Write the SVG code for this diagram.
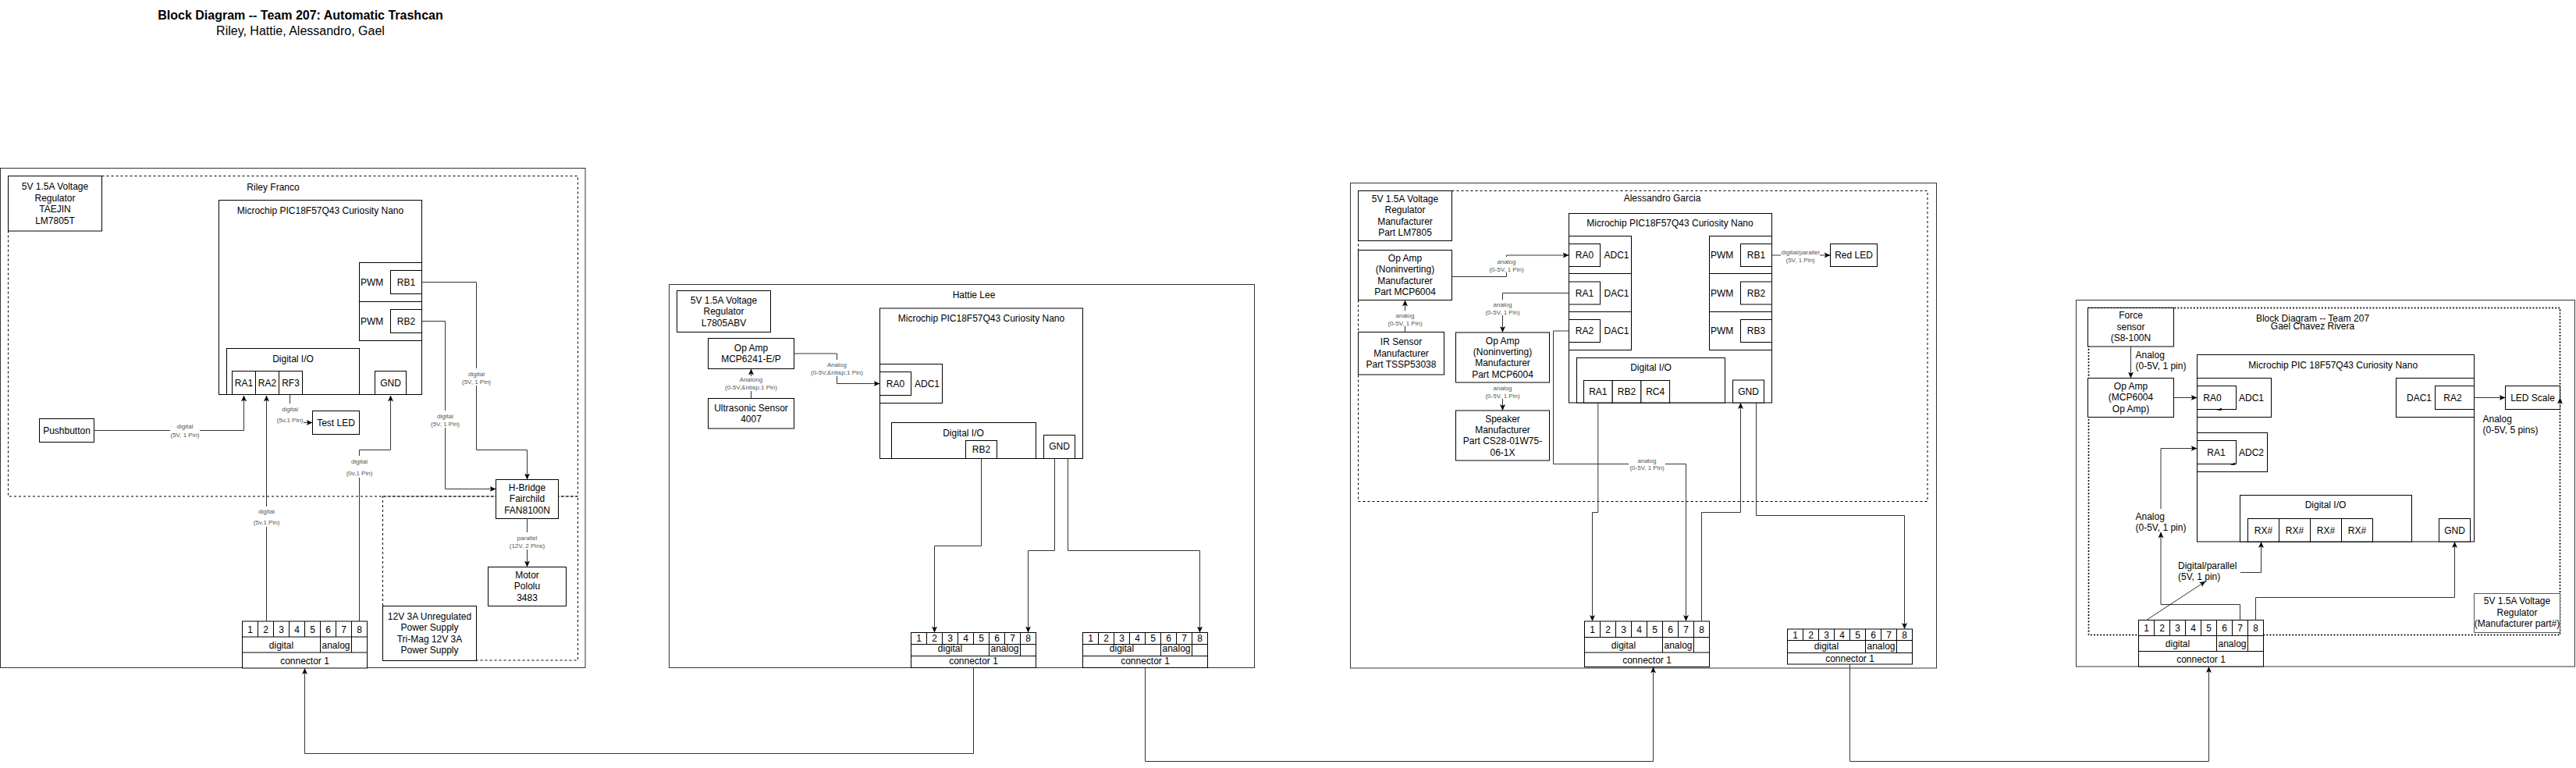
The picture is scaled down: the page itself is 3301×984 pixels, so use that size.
<svg xmlns="http://www.w3.org/2000/svg" width="3301" height="984" viewBox="0 0 3301 984">
<defs>
<marker id="ah" viewBox="0 0 8 8" refX="7.5" refY="4" markerWidth="8" markerHeight="8" markerUnits="userSpaceOnUse" orient="auto"><path d="M0,0.5 L8,4 L0,7.5 L2,4 Z" fill="#000"/></marker>
<style>
.b{fill:#fff;stroke:#000;stroke-width:1}
.n{fill:none;stroke:#000;stroke-width:1}
.d{fill:none;stroke:#000;stroke-width:1;stroke-dasharray:3 3}
.dt{fill:none;stroke:#000;stroke-width:2;stroke-dasharray:0.1 4;stroke-linecap:round}
.e{fill:none;stroke:#333;stroke-width:1}
.a{marker-end:url(#ah)}
text{font-family:"Liberation Sans",Arial,Helvetica,sans-serif;font-size:12px;fill:#000}
.m{text-anchor:middle}
.l{font-size:8px;fill:#555;text-anchor:middle}
.g{font-size:12px;fill:#000}
.bg{fill:#fff}
</style>
</defs>
<rect width="3301" height="984" fill="#fff"/>

<g id="title">
<text class="m" x="385" y="25" style="font-size:16px;font-weight:bold">Block Diagram -- Team 207: Automatic Trashcan</text>
<text class="m" x="385" y="45" style="font-size:16px">Riley, Hattie, Alessandro, Gael</text>
</g>

<!-- ================= RILEY ================= -->
<g id="riley-panel">
<rect class="b" x="0.5" y="215.5" width="749.5" height="640" style="stroke:#333"/>
<rect class="d" x="10.5" y="225.5" width="730" height="410.5"/>
<rect class="d" x="490.5" y="636" width="250" height="210"/>
<text class="m" x="350" y="244">Riley Franco</text>
</g>
<g id="riley-vreg"><rect class="b" x="10.5" y="225.5" width="120" height="70.5"/>
<text class="m"><tspan x="70.5" y="243">5V 1.5A Voltage</tspan><tspan x="70.5" y="257.5">Regulator</tspan><tspan x="70.5" y="272">TAEJIN</tspan><tspan x="70.5" y="286.5">LM7805T</tspan></text></g>
<g id="riley-mcu">
<rect class="b" x="280.5" y="256.5" width="260" height="249"/>
<text class="m" x="410.5" y="274">Microchip PIC18F57Q43 Curiosity Nano</text>
<rect class="b" x="460.5" y="336.5" width="80" height="50"/><rect class="b" x="500.5" y="346.5" width="40" height="30"/>
<text x="462" y="365.5">PWM</text><text class="m" x="520.5" y="365.5">RB1</text>
<rect class="b" x="460.5" y="386.5" width="80" height="50"/><rect class="b" x="500.5" y="396.5" width="40" height="30"/>
<text x="462" y="415.5">PWM</text><text class="m" x="520.5" y="415.5">RB2</text>
<rect class="b" x="290.5" y="446.5" width="170" height="59"/>
<text class="m" x="375.5" y="463.5">Digital I/O</text>
<rect class="b" x="297.5" y="475.5" width="30" height="30"/><rect class="b" x="327.5" y="475.5" width="30" height="30"/><rect class="b" x="357.5" y="475.5" width="30" height="30"/>
<text class="m" x="312.5" y="495">RA1</text><text class="m" x="342.5" y="495">RA2</text><text class="m" x="372.5" y="495">RF3</text>
<rect class="b" x="480.5" y="475.5" width="40" height="30"/><text class="m" x="500.5" y="495">GND</text>
</g>
<g id="riley-led"><rect class="b" x="400.5" y="526.5" width="60" height="30"/><text class="m" x="430.5" y="546">Test LED</text></g>
<g id="riley-button"><rect class="b" x="50.5" y="536.5" width="70" height="30"/><text class="m" x="85.5" y="556">Pushbutton</text></g>
<g id="riley-hbridge"><rect class="b" x="635.5" y="614.5" width="80" height="50"/>
<text class="m"><tspan x="675.5" y="628.5">H-Bridge</tspan><tspan x="675.5" y="643">Fairchild</tspan><tspan x="675.5" y="657.5">FAN8100N</tspan></text></g>
<g id="riley-motor"><rect class="b" x="625.5" y="726.5" width="100" height="50"/>
<text class="m"><tspan x="675.5" y="740.5">Motor</tspan><tspan x="675.5" y="755">Pololu</tspan><tspan x="675.5" y="769.5">3483</tspan></text></g>
<g id="riley-psu"><rect class="b" x="490.5" y="776.5" width="120" height="70"/>
<text class="m"><tspan x="550.5" y="793.5">12V 3A Unregulated</tspan><tspan x="550.5" y="808">Power Supply</tspan><tspan x="550.5" y="822.5">Tri-Mag 12V 3A</tspan><tspan x="550.5" y="837">Power Supply</tspan></text></g>
<g id="riley-conn">
<rect class="b" x="310.5" y="796" width="160" height="60"/>
<path class="n" d="M310.5,816H470.5M310.5,836H470.5M330.5,796V816M350.5,796V816M370.5,796V816M390.5,796V816M410.5,796V836M430.5,796V816M450.5,796V836"/>
<text class="m" x="320.5" y="810.5">1</text><text class="m" x="340.5" y="810.5">2</text><text class="m" x="360.5" y="810.5">3</text><text class="m" x="380.5" y="810.5">4</text><text class="m" x="400.5" y="810.5">5</text><text class="m" x="420.5" y="810.5">6</text><text class="m" x="440.5" y="810.5">7</text><text class="m" x="460.5" y="810.5">8</text>
<text class="m" x="360.5" y="830.5">digital</text><text class="m" x="430.5" y="830.5">analog</text><text class="m" x="390.5" y="850.5">connector 1</text>
</g>

<!-- ================= HATTIE ================= -->
<g id="hattie-panel">
<rect class="b" x="857.5" y="364.5" width="750" height="491" style="stroke:#333"/>
<text class="m" x="1248" y="382">Hattie Lee</text>
</g>
<g id="hattie-vreg"><rect class="b" x="867.5" y="372.5" width="120" height="53"/>
<text class="m"><tspan x="927.5" y="388.5">5V 1.5A Voltage</tspan><tspan x="927.5" y="403">Regulator</tspan><tspan x="927.5" y="417.5">L7805ABV</tspan></text></g>
<g id="hattie-opamp"><rect class="b" x="907.5" y="433.5" width="110" height="39"/>
<text class="m"><tspan x="962.5" y="449.5">Op Amp</tspan><tspan x="962.5" y="464">MCP6241-E/P</tspan></text></g>
<g id="hattie-ultra"><rect class="b" x="907.5" y="510.5" width="110" height="38.5"/>
<text class="m"><tspan x="962.5" y="526.5">Ultrasonic Sensor</tspan><tspan x="962.5" y="541">4007</tspan></text></g>
<g id="hattie-mcu">
<rect class="b" x="1127.5" y="395" width="260" height="192.5"/>
<text class="m" x="1257.5" y="412">Microchip PIC18F57Q43 Curiosity Nano</text>
<rect class="b" x="1127.5" y="466.5" width="80" height="50"/><rect class="b" x="1127.5" y="476.5" width="40" height="30"/>
<text class="m" x="1147.5" y="495.5">RA0</text><text class="m" x="1188" y="495.5">ADC1</text>
<rect class="b" x="1142.5" y="541.5" width="185" height="46"/>
<text class="m" x="1234.5" y="558.5">Digital I/O</text>
<rect class="b" x="1237.5" y="564.5" width="40" height="23"/><text class="m" x="1257.5" y="580">RB2</text>
<rect class="b" x="1337.5" y="557.5" width="40" height="30"/><text class="m" x="1357.5" y="576">GND</text>
</g>
<g id="hattie-conn1">
<rect class="b" x="1167.5" y="810.5" width="160" height="45"/>
<path class="n" d="M1167.5,825.5H1327.5M1167.5,840.5H1327.5M1187.5,810.5V825.5M1207.5,810.5V825.5M1227.5,810.5V825.5M1247.5,810.5V825.5M1267.5,810.5V840.5M1287.5,810.5V825.5M1307.5,810.5V840.5"/>
<text class="m" x="1177.5" y="822">1</text><text class="m" x="1197.5" y="822">2</text><text class="m" x="1217.5" y="822">3</text><text class="m" x="1237.5" y="822">4</text><text class="m" x="1257.5" y="822">5</text><text class="m" x="1277.5" y="822">6</text><text class="m" x="1297.5" y="822">7</text><text class="m" x="1317.5" y="822">8</text>
<text class="m" x="1217.5" y="835">digital</text><text class="m" x="1287.5" y="835">analog</text><text class="m" x="1247.5" y="851">connector 1</text>
</g>
<g id="hattie-conn2">
<rect class="b" x="1387.5" y="810.5" width="160" height="45"/>
<path class="n" d="M1387.5,825.5H1547.5M1387.5,840.5H1547.5M1407.5,810.5V825.5M1427.5,810.5V825.5M1447.5,810.5V825.5M1467.5,810.5V825.5M1487.5,810.5V840.5M1507.5,810.5V825.5M1527.5,810.5V840.5"/>
<text class="m" x="1397.5" y="822">1</text><text class="m" x="1417.5" y="822">2</text><text class="m" x="1437.5" y="822">3</text><text class="m" x="1457.5" y="822">4</text><text class="m" x="1477.5" y="822">5</text><text class="m" x="1497.5" y="822">6</text><text class="m" x="1517.5" y="822">7</text><text class="m" x="1537.5" y="822">8</text>
<text class="m" x="1437.5" y="835">digital</text><text class="m" x="1507.5" y="835">analog</text><text class="m" x="1467.5" y="851">connector 1</text>
</g>

<!-- ================= ALESSANDRO ================= -->
<g id="alessandro-panel">
<rect class="b" x="1730.5" y="234.5" width="751" height="621.5" style="stroke:#333"/>
<rect class="d" x="1740.5" y="244.5" width="729.5" height="398"/>
<text class="m" x="2130" y="258">Alessandro Garcia</text>
</g>
<g id="alessandro-vreg"><rect class="b" x="1740.5" y="244.5" width="120" height="64"/>
<text class="m"><tspan x="1800.5" y="259">5V 1.5A Voltage</tspan><tspan x="1800.5" y="273.3">Regulator</tspan><tspan x="1800.5" y="287.7">Manufacturer</tspan><tspan x="1800.5" y="302">Part LM7805</tspan></text></g>
<g id="alessandro-opamp1"><rect class="b" x="1740.5" y="320.5" width="120" height="64"/>
<text class="m"><tspan x="1800.5" y="335">Op Amp</tspan><tspan x="1800.5" y="349.3">(Noninverting)</tspan><tspan x="1800.5" y="363.7">Manufacturer</tspan><tspan x="1800.5" y="378">Part MCP6004</tspan></text></g>
<g id="alessandro-ir"><rect class="b" x="1740.5" y="425.5" width="110" height="54.5"/>
<text class="m"><tspan x="1795.5" y="442.3">IR Sensor</tspan><tspan x="1795.5" y="456.7">Manufacturer</tspan><tspan x="1795.5" y="471.1">Part TSSP53038</tspan></text></g>
<g id="alessandro-opamp2"><rect class="b" x="1865.5" y="426" width="120" height="64"/>
<text class="m"><tspan x="1925.5" y="440.5">Op Amp</tspan><tspan x="1925.5" y="454.8">(Noninverting)</tspan><tspan x="1925.5" y="469.2">Manufacturer</tspan><tspan x="1925.5" y="483.5">Part MCP6004</tspan></text></g>
<g id="alessandro-speaker"><rect class="b" x="1865.5" y="526" width="120" height="64"/>
<text class="m"><tspan x="1925.5" y="540.5">Speaker</tspan><tspan x="1925.5" y="554.8">Manufacturer</tspan><tspan x="1925.5" y="569.2">Part CS28-01W75-</tspan><tspan x="1925.5" y="583.5">06-1X</tspan></text></g>
<g id="alessandro-mcu">
<rect class="b" x="2010.5" y="273.5" width="260" height="242.5"/>
<text class="m" x="2140" y="290">Microchip PIC18F57Q43 Curiosity Nano</text>
<rect class="b" x="2010.5" y="302.5" width="80" height="48"/><rect class="b" x="2010.5" y="312.5" width="40" height="29"/>
<text class="m" x="2030.5" y="331">RA0</text><text class="m" x="2071.5" y="331">ADC1</text>
<rect class="b" x="2010.5" y="350.5" width="80" height="49"/><rect class="b" x="2010.5" y="361" width="40" height="29"/>
<text class="m" x="2030.5" y="379.5">RA1</text><text class="m" x="2071.5" y="379.5">DAC1</text>
<rect class="b" x="2010.5" y="399.5" width="80" height="49"/><rect class="b" x="2010.5" y="409.5" width="40" height="29"/>
<text class="m" x="2030.5" y="428">RA2</text><text class="m" x="2071.5" y="428">DAC1</text>
<rect class="b" x="2190.5" y="302.5" width="80" height="48"/><rect class="b" x="2230.5" y="312.5" width="40" height="29"/>
<text x="2192" y="331">PWM</text><text class="m" x="2250.5" y="331">RB1</text>
<rect class="b" x="2190.5" y="350.5" width="80" height="49"/><rect class="b" x="2230.5" y="361" width="40" height="29"/>
<text x="2192" y="379.5">PWM</text><text class="m" x="2250.5" y="379.5">RB2</text>
<rect class="b" x="2190.5" y="399.5" width="80" height="49"/><rect class="b" x="2230.5" y="409.5" width="40" height="29"/>
<text x="2192" y="428">PWM</text><text class="m" x="2250.5" y="428">RB3</text>
<rect class="b" x="2020.5" y="458.5" width="190" height="57.5"/>
<text class="m" x="2115.5" y="475">Digital I/O</text>
<rect class="b" x="2029.5" y="487.5" width="36.7" height="28.5"/><rect class="b" x="2066.2" y="487.5" width="36.7" height="28.5"/><rect class="b" x="2102.9" y="487.5" width="36.7" height="28.5"/>
<text class="m" x="2047.8" y="506">RA1</text><text class="m" x="2084.5" y="506">RB2</text><text class="m" x="2121.2" y="506">RC4</text>
<rect class="b" x="2220.5" y="487" width="40" height="29"/><text class="m" x="2240.5" y="506">GND</text>
</g>
<g id="alessandro-redled"><rect class="b" x="2345.5" y="312.5" width="60" height="29"/><text class="m" x="2375.5" y="331">Red LED</text></g>
<g id="alessandro-conn1">
<rect class="b" x="2030.5" y="796" width="160" height="58.5"/>
<path class="n" d="M2030.5,816.5H2190.5M2030.5,836H2190.5M2050.5,796V816.5M2070.5,796V816.5M2090.5,796V816.5M2110.5,796V816.5M2130.5,796V836M2150.5,796V816.5M2170.5,796V836"/>
<text class="m" x="2040.5" y="810.5">1</text><text class="m" x="2060.5" y="810.5">2</text><text class="m" x="2080.5" y="810.5">3</text><text class="m" x="2100.5" y="810.5">4</text><text class="m" x="2120.5" y="810.5">5</text><text class="m" x="2140.5" y="810.5">6</text><text class="m" x="2160.5" y="810.5">7</text><text class="m" x="2180.5" y="810.5">8</text>
<text class="m" x="2080.5" y="830.5">digital</text><text class="m" x="2150.5" y="830.5">analog</text><text class="m" x="2110.5" y="849.5">connector 1</text>
</g>
<g id="alessandro-conn2">
<rect class="b" x="2290.5" y="806" width="160" height="45"/>
<path class="n" d="M2290.5,820.5H2450.5M2290.5,836.5H2450.5M2310.5,806V820.5M2330.5,806V820.5M2350.5,806V820.5M2370.5,806V820.5M2390.5,806V836.5M2410.5,806V820.5M2430.5,806V836.5"/>
<text class="m" x="2300.5" y="817.5">1</text><text class="m" x="2320.5" y="817.5">2</text><text class="m" x="2340.5" y="817.5">3</text><text class="m" x="2360.5" y="817.5">4</text><text class="m" x="2380.5" y="817.5">5</text><text class="m" x="2400.5" y="817.5">6</text><text class="m" x="2420.5" y="817.5">7</text><text class="m" x="2440.5" y="817.5">8</text>
<text class="m" x="2340.5" y="832">digital</text><text class="m" x="2410.5" y="832">analog</text><text class="m" x="2370.5" y="847.5">connector 1</text>
</g>

<!-- ================= GAEL ================= -->
<g id="gael-panel">
<rect class="b" x="2660.5" y="384.5" width="639" height="469.5" style="stroke:#333"/>
<rect class="dt" x="2676.5" y="394.5" width="604" height="419"/>
<text class="m"><tspan x="2963.5" y="412">Block Diagram -- Team 207</tspan><tspan x="2963.5" y="422">Gael Chavez Rivera</tspan></text>
</g>
<g id="gael-force"><rect class="b" x="2675.5" y="394.5" width="110" height="49.5"/>
<text class="m"><tspan x="2730.5" y="407.5">Force</tspan><tspan x="2730.5" y="422.5">sensor</tspan><tspan x="2730.5" y="437">(S8-100N</tspan></text></g>
<g id="gael-opamp"><rect class="b" x="2675.5" y="484.5" width="110" height="50"/>
<text class="m"><tspan x="2730.5" y="498.5">Op Amp</tspan><tspan x="2730.5" y="513">(MCP6004</tspan><tspan x="2730.5" y="527.5">Op Amp)</tspan></text></g>
<g id="gael-mcu">
<rect class="b" x="2815.5" y="454.5" width="355" height="239.5"/>
<text class="m" x="2989.7" y="472">Microchip PIC 18F57Q43 Curiosity Nano</text>
<rect class="b" x="2815.5" y="484.5" width="95" height="50"/><rect class="b" x="2815.5" y="494.5" width="50" height="30"/>
<text class="m" x="2835" y="513.5">RA0</text><text class="m" x="2885" y="513.5">ADC1</text>
<path d="M2841,525.5 L2847,522.5 L2846.5,526 Z" fill="#000"/>
<rect class="b" x="2815.5" y="554.5" width="90" height="50"/><rect class="b" x="2815.5" y="564.5" width="50" height="30"/>
<text class="m" x="2840" y="583.5">RA1</text><text class="m" x="2885" y="583.5">ADC2</text>
<path d="M2858,595.5 L2864,592.5 L2863.5,596 Z" fill="#000"/>
<rect class="b" x="3070.5" y="484.5" width="100" height="50"/><rect class="b" x="3120.5" y="494.5" width="50" height="30"/>
<text class="m" x="3100" y="513.5">DAC1</text><text class="m" x="3143" y="513.5">RA2</text>
<rect class="b" x="2870.5" y="634.5" width="220" height="59.5"/>
<text class="m" x="2980" y="651">Digital I/O</text>
<rect class="b" x="2880.5" y="664.5" width="40" height="29.5"/><rect class="b" x="2920.5" y="664.5" width="40" height="29.5"/><rect class="b" x="2960.5" y="664.5" width="40" height="29.5"/><rect class="b" x="3000.5" y="664.5" width="40" height="29.5"/>
<text class="m" x="2900.5" y="683.5">RX#</text><text class="m" x="2940.5" y="683.5">RX#</text><text class="m" x="2980.5" y="683.5">RX#</text><text class="m" x="3020.5" y="683.5">RX#</text>
<rect class="b" x="3125.5" y="664.5" width="40" height="29.5"/><text class="m" x="3145.5" y="683.5">GND</text>
</g>
<g id="gael-ledscale"><rect class="b" x="3210.5" y="494.5" width="70" height="30"/><text class="m" x="3245.5" y="513.5">LED Scale</text></g>
<g id="gael-vreg"><rect class="b" x="3170.5" y="760.5" width="110" height="50" style="stroke:#555"/>
<text class="m"><tspan x="3225.5" y="774">5V 1.5A Voltage</tspan><tspan x="3225.5" y="788.5">Regulator</tspan><tspan x="3225.5" y="803">(Manufacturer part#)</tspan></text></g>
<g id="gael-conn">
<rect class="b" x="2740.5" y="794.5" width="160" height="59.5"/>
<path class="n" d="M2740.5,814.5H2900.5M2740.5,834.5H2900.5M2760.5,794.5V814.5M2780.5,794.5V814.5M2800.5,794.5V814.5M2820.5,794.5V814.5M2840.5,794.5V834.5M2860.5,794.5V814.5M2880.5,794.5V834.5"/>
<text class="m" x="2750.5" y="809">1</text><text class="m" x="2770.5" y="809">2</text><text class="m" x="2790.5" y="809">3</text><text class="m" x="2810.5" y="809">4</text><text class="m" x="2830.5" y="809">5</text><text class="m" x="2850.5" y="809">6</text><text class="m" x="2870.5" y="809">7</text><text class="m" x="2890.5" y="809">8</text>
<text class="m" x="2790.5" y="829">digital</text><text class="m" x="2860.5" y="829">analog</text><text class="m" x="2820.5" y="849">connector 1</text>
</g>

<!-- ================= CONNECTORS ================= -->
<g id="connectors">
<path class="e a" d="M120.5,551.5H312.5V507"/>
<path class="e a" d="M341.5,796V507"/>
<path class="e a" d="M371.5,505.5V541.5H400"/>
<path class="e a" d="M460.5,796V576.5H500.5V507"/>
<path class="e a" d="M540.5,361.5H610.5V576.5H675.5V614"/>
<path class="e a" d="M540.5,411.5H570.5V626.5H635"/>
<path class="e a" d="M675.5,664.5V726"/>
<path class="e a" d="M962.5,510.5V473"/>
<path class="e a" d="M1017.5,453H1072.5V491.5H1127"/>
<path class="e a" d="M1257.5,587.5V699.5H1197.5V810"/>
<path class="e a" d="M1351.5,587.5V705.5H1317.5V810"/>
<path class="e a" d="M1368.5,587.5V705.5H1537.5V810"/>
<path class="e a" d="M1800.5,425.5V385"/>
<path class="e a" d="M1860.5,354.5H1930.5V327H2010"/>
<path class="e a" d="M2010.5,375.5H1925.5V425.5"/>
<path class="e a" d="M1925.5,490V525.5"/>
<path class="e a" d="M2010.5,424H1990.5V594.5H2160.5V795.5"/>
<path class="e a" d="M2047.8,516V656.5H2040.5V795.5"/>
<path class="e a" d="M2180.5,796V656.5H2230.5V516.5"/>
<path class="e a" d="M2250.5,516V660.5H2440.5V805.5"/>
<path class="e a" d="M2270.5,327H2345"/>
<path class="e a" d="M2730.5,444V484"/>
<path class="e a" d="M2785.5,509.5H2815"/>
<path class="e a" d="M3170.5,509.5H3210"/>
<path class="e a" d="M3280.5,524.5V510"/>
<path class="e a" d="M2870.5,794.5V774.5H2769V682"/>
<path class="e a" d="M2769,652V574.5H2815"/>
<path class="e a" d="M2750.5,794.5L2826,745"/>
<path class="e a" d="M2871,733.5H2897.5V694.5"/>
<path class="e a" d="M2890.5,794.5V765.5H3145.5V694.5"/>
<path class="e a" d="M1247.5,855.5V965.5H390.5V856.5"/>
<path class="e a" d="M1467.5,855.5V975.5H2118.5V855"/>
<path class="e a" d="M2370.5,851V975.5H2830.5V854.5"/>

<rect class="bg" x="218" y="541" width="38" height="21"/>
<text class="l"><tspan x="237" y="548.5">digital</tspan><tspan x="237" y="559.5">(5V, 1 Pin)</tspan></text>
<rect class="bg" x="322" y="649" width="39" height="26"/>
<text class="l"><tspan x="341.5" y="658">digital</tspan><tspan x="341.5" y="672">(5v,1 Pin)</tspan></text>
<rect class="bg" x="353" y="517" width="36" height="27"/>
<text class="l"><tspan x="371.5" y="527">digital</tspan><tspan x="371.5" y="541">(5v,1 Pin)</tspan></text>
<rect class="bg" x="441" y="584" width="39" height="28"/>
<text class="l"><tspan x="460.5" y="594">digital</tspan><tspan x="460.5" y="609">(0v,1 Pin)</tspan></text>
<rect class="bg" x="591" y="472" width="39" height="22"/>
<text class="l"><tspan x="610.5" y="482">digital</tspan><tspan x="610.5" y="492">(5V, 1 Pin)</tspan></text>
<rect class="bg" x="551" y="526" width="39" height="22"/>
<text class="l"><tspan x="570.5" y="536">digital</tspan><tspan x="570.5" y="546">(5V, 1 Pin)</tspan></text>
<rect class="bg" x="652" y="682" width="47" height="22"/>
<text class="l"><tspan x="675.5" y="692">parallel</tspan><tspan x="675.5" y="702">(12V, 2 Pins)</tspan></text>

<rect class="bg" x="928" y="482" width="69" height="19"/>
<text class="l"><tspan x="962.5" y="489">Analong</tspan><tspan x="962.5" y="498.7">(0-5V,&amp;nbsp;1 Pin)</tspan></text>
<rect class="bg" x="1038" y="461" width="69" height="21"/>
<text class="l"><tspan x="1072.5" y="469.7">Analog</tspan><tspan x="1072.5" y="479.7">(0-5V,&amp;nbsp;1 Pin)</tspan></text>

<rect class="bg" x="1777" y="398" width="47" height="20"/>
<text class="l"><tspan x="1800.5" y="407">analog</tspan><tspan x="1800.5" y="416.7">(0-5V, 1 Pin)</tspan></text>
<rect class="bg" x="1907" y="329" width="47" height="20"/>
<text class="l"><tspan x="1930.5" y="338">analog</tspan><tspan x="1930.5" y="348">(0-5V, 1 Pin)</tspan></text>
<rect class="bg" x="1902" y="384" width="47" height="20"/>
<text class="l"><tspan x="1925.5" y="393">analog</tspan><tspan x="1925.5" y="402.7">(0-5V, 1 Pin)</tspan></text>
<rect class="bg" x="1902" y="491" width="47" height="20"/>
<text class="l"><tspan x="1925.5" y="499.7">analog</tspan><tspan x="1925.5" y="509.7">(0-5V, 1 Pin)</tspan></text>
<rect class="bg" x="2087" y="584" width="47" height="20"/>
<text class="l"><tspan x="2110.5" y="593">analog</tspan><tspan x="2110.5" y="602.3">(0-5V, 1 Pin)</tspan></text>
<rect class="bg" x="2282" y="317" width="50" height="20"/>
<text class="l"><tspan x="2307" y="325.7">digital/parallel</tspan><tspan x="2307" y="335.7">(5V, 1 Pin)</tspan></text>

<text class="g"><tspan x="2736.5" y="458.5">Analog</tspan><tspan x="2736.5" y="472.5">(0-5V, 1 pin)</tspan></text>
<text class="g"><tspan x="3181.5" y="541">Analog</tspan><tspan x="3181.5" y="555">(0-5V, 5 pins)</tspan></text>
<text class="g"><tspan x="2736.5" y="666">Analog</tspan><tspan x="2736.5" y="680">(0-5V, 1 pin)</tspan></text>
<text class="g"><tspan x="2791" y="728.5">Digital/parallel</tspan><tspan x="2791" y="743">(5V, 1 pin)</tspan></text>
</g>
</svg>
